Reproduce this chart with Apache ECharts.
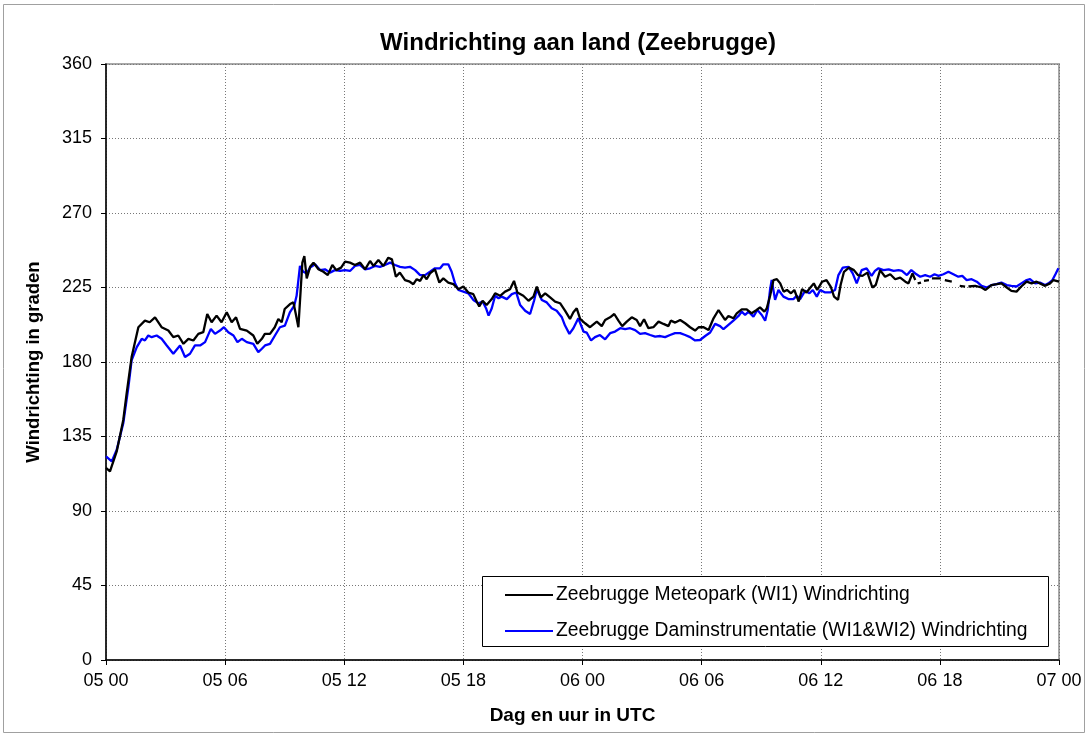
<!DOCTYPE html>
<html>
<head>
<meta charset="utf-8">
<script src="https://cdn.jsdelivr.net/npm/echarts@6/dist/echarts.min.js"></script>
<style>html,body{margin:0;padding:0;background:#fff}#c{width:1089px;height:737px}</style>
</head>
<body>
<div id="c"></div>
<script>
var xTickLabels = ['05 00','05 06','05 12','05 18','06 00','06 06','06 12','06 18','07 00'];
var yTicks = [0,45,90,135,180,225,270,315,360];
var seriesNames = ['Zeebrugge Meteopark (WI1) Windrichting','Zeebrugge Daminstrumentatie (WI1&WI2) Windrichting'];

// [hours since 05 00 UTC, degrees]; null = missing
var meteopark = [
[0,116],[0.2,114],[0.54,126],[0.87,145],[1.04,161],[1.29,183],[1.63,201],[1.96,205],[2.2,204],[2.47,207],[2.8,201],[3.14,199],[3.39,195],[3.64,196],[3.9,191],[4.15,194],[4.4,193],[4.65,197],[4.9,198],[5.1,209],[5.32,204],[5.57,208],[5.82,204],[6.08,210],[6.33,204],[6.55,207],[6.75,200],[7.09,199],[7.42,196],[7.62,191],
[7.85,194],[8.0,197],[8.26,197],[8.5,201],[8.68,206],[8.85,204],[9.0,212],[9.27,215],[9.44,216],[9.56,209],[9.69,201],[9.79,200],[9.89,240],[9.99,244],[10.11,230.5],[10.28,237.5],[10.45,240],[10.7,236],[10.95,234.5],[11.17,232.5],[11.4,238.6],[11.6,235.5],[11.84,237],[12.04,240.6],[12.29,240],[12.54,238.6],[12.8,240],[13.05,236],[13.3,241],[13.47,238],[13.72,241.6],[13.97,238],[14.22,243],[14.4,242],[14.6,231.5],[14.8,234],[15.06,229.5],
[15.3,228.5],[15.48,227],[15.65,230],[15.82,229],[15.99,232.5],[16.15,230],[16.32,233.5],[16.57,236],[16.79,228],[16.99,230.5],[17.24,228],[17.5,227],[17.75,224],[18.0,225.6],[18.25,222],[18.5,221],[18.67,216.5],[18.8,213.5],[18.97,217],[19.17,214.4],[19.43,218],[19.6,221.5],[19.85,220],[20.1,222.5],[20.35,224],[20.55,229],[20.72,222],[21.02,220],[21.28,217],[21.53,219.5],[21.7,225.5],[21.9,219],[22.12,221.5],[22.37,219],[22.62,216.5],[22.87,215.5],[23.12,211],[23.37,206],
[23.54,210],[23.71,212.4],[23.88,206],[24.13,203.4],[24.38,201],[24.72,204.4],[24.97,201.7],[25.14,205.4],[25.39,207],[25.6,209],[25.81,205],[26.0,201.7],[26.23,204.4],[26.48,207],[26.73,205.4],[26.9,201.7],[27.1,205.8],[27.32,200.4],[27.57,201],[27.83,204.4],[28.08,203],[28.33,201.7],[28.45,205],[28.67,203.8],[28.92,205.4],[29.17,203.4],[29.42,201],[29.67,199],[29.85,201],[30.1,201],[30.35,199.3],[30.6,206.4],[30.85,211.4],
[31.18,205.4],[31.35,207.8],[31.6,206.4],[31.77,209.4],[32.02,211.8],[32.27,211.8],[32.52,209.4],[32.77,211.4],[32.94,213],[33.16,210.4],[33.28,212.4],[33.45,220],[33.62,229.5],[33.79,230],[33.96,227.5],[34.13,222.5],[34.3,223.5],[34.5,221.5],[34.67,223.5],[34.89,216.5],[35.06,224],[35.28,222],[35.48,225],[35.65,227.5],[35.82,223.5],[36.07,228.5],[36.29,229.5],[36.5,225.6],[36.67,219.5],[36.87,217.5],[37.0,226.5],[37.17,234.5],[37.42,237],[37.67,235.5],[37.87,232.5],[38.1,232],[38.35,234],[38.6,225],[38.77,226.5],
[38.99,235.5],[39.24,231.5],[39.5,233],[39.75,230],[40.0,231],[40.26,228.5],[40.42,227.5],[40.62,233.5],[40.76,229.5],
[40.8,null],[40.88,227.5],[41.05,228],[41.12,null],[41.2,229],[41.45,229.5],[41.52,null],[41.6,230.5],[42.05,230.5],[42.15,null],[42.25,229.5],[42.6,228.5],[42.8,null],[43.0,226],[43.27,225.5],[43.35,null],
[43.44,225.6],[43.78,226],[44.1,225],[44.3,223.5],[44.6,226.5],[44.86,227],[45.1,227.5],[45.37,225],[45.6,223],[45.86,222.5],[46.1,225.6],[46.37,228.5],[46.62,227.5],[46.87,228.5],[47.04,227.5],[47.3,226],[47.55,227.5],[47.72,229.5],[48,228.5]
];

var daminstrumentatie = [
[0,123],[0.29,120],[0.54,127],[0.87,143],[1.13,165],[1.29,181],[1.55,189],[1.8,194],[1.96,193],[2.13,196],[2.3,195],[2.55,196],[2.8,194],[3.06,190],[3.39,185],[3.73,190],[3.98,183],[4.23,185],[4.48,190],[4.74,190],[4.99,192],[5.28,200],[5.49,197],[5.74,199],[5.94,201],[6.16,198],[6.42,196],[6.62,192],[6.84,194],[7.09,192],[7.42,191],[7.67,186],
[7.85,188],[8.01,190],[8.26,191],[8.51,196],[8.76,201],[9.01,202],[9.26,210],[9.48,214],[9.6,220],[9.69,229.5],[9.77,238],[9.94,234.5],[10.11,233.5],[10.28,237],[10.53,239],[10.78,235.5],[11.03,236],[11.28,234],[11.53,235.5],[11.79,235],[12.04,235.5],[12.29,235],[12.54,238],[12.79,238.6],[13.05,236],[13.3,236.6],[13.55,238],[13.8,237.5],[14.05,238.6],[14.31,240],[14.56,238.6],[14.81,237.5],[15.06,237],
[15.31,237.5],[15.57,235.5],[15.82,232.5],[16.07,232.5],[16.32,234.5],[16.57,236.6],[16.83,236.6],[16.99,239],[17.24,239],[17.41,234.5],[17.58,227.5],[17.75,223.5],[18.0,222.5],[18.25,221.5],[18.5,217.5],[18.76,215.5],[18.97,216.5],[19.14,212.5],[19.27,208],[19.43,212.5],[19.6,220],[19.77,218.5],[19.93,219.5],[20.19,218],[20.44,221],[20.66,222],[20.86,214.4],[21.11,211],[21.36,209],[21.56,217],[21.7,224],[21.95,217.5],[22.2,216],[22.45,212.5],[22.7,211],[22.96,207],[23.12,202],[23.34,197],
[23.54,200.4],[23.79,206.4],[24.05,198.4],[24.21,197.8],[24.43,193],[24.63,195],[24.88,196.3],[25.14,193.7],[25.39,197.4],[25.64,198.4],[25.9,200.4],[26.15,199.8],[26.4,200.4],[26.65,199.3],[26.9,197],[27.15,197.4],[27.41,196.3],[27.66,195.3],[27.91,195.7],[28.16,195],[28.41,196.3],[28.66,197.4],[28.92,197.4],[29.17,196.3],[29.42,195],[29.67,193],[29.92,193.3],[30.18,195.7],[30.43,197.8],[30.68,203],[30.93,201.7],
[31.1,199.8],[31.35,202.4],[31.6,205],[31.86,207.8],[32.02,210.4],[32.19,208.4],[32.36,210.4],[32.61,207.4],[32.81,211.4],[33.03,208.4],[33.2,205],[33.33,211.4],[33.45,224],[33.53,229.5],[33.7,217.5],[33.87,223.5],[34.12,219.5],[34.37,218],[34.62,218],[34.79,220],[34.96,218],[35.21,223],[35.43,221.5],[35.6,223.5],[35.8,219.5],[35.97,223.5],[36.22,222],[36.47,222],[36.72,223.5],[36.89,232.5],[37.11,237],[37.4,237.5],[37.61,233.5],[37.81,227.5],[38.06,235.5],[38.31,236.6],[38.56,232],[38.73,235],
[38.91,236.6],[39.16,235.5],[39.42,236],[39.67,235],[39.92,235.5],[40.09,235],[40.34,232.5],[40.56,235.5],[40.76,233.5],[41.01,231.5],[41.26,232.5],[41.51,231.5],[41.73,233],[41.93,232],[42.18,233],[42.43,234.5],[42.68,233],[42.93,231.5],[43.13,232],[43.35,229.5],[43.6,230],[43.86,228.5],[44.1,226],[44.37,225],[44.6,226.5],[44.86,227],[45.1,228],[45.37,226.5],[45.6,226],[45.86,225.6],[46.1,227.5],[46.37,229.5],[46.54,230],[46.8,227.5],[47.04,228],[47.3,226.5],[47.47,227.5],[47.67,229.5],[47.84,233.5],[47.97,236.6]
];

var FONT = "'Liberation Sans', Arial, sans-serif";
var chart = echarts.init(document.getElementById('c'), null, {renderer: 'canvas'});
chart.setOption({
  backgroundColor: '#ffffff',
  animation: false,
  textStyle: {fontFamily: FONT, color: '#000'},
  title: {
    text: 'Windrichting aan land (Zeebrugge)',
    left: 573, top: 26, textAlign: 'center',
    textStyle: {fontFamily: FONT, fontSize: 24, fontWeight: 'bold', color: '#000'}
  },
  graphic: [
    {type: 'rect', silent: true, z: -10, shape: {x: 3.5, y: 4.5, width: 1081, height: 728}, style: {fill: 'none', stroke: '#a0a0a0', lineWidth: 1}},
    {type: 'rect', silent: true, z: 5, shape: {x: 482.5, y: 576.5, width: 566, height: 70}, style: {fill: '#fff', stroke: '#000', lineWidth: 1}}
  ],
  legend: {
    orient: 'vertical', left: 500, top: 579, z: 10,
    itemWidth: 48, itemHeight: 2, itemGap: 14,
    textStyle: {fontFamily: FONT, fontSize: 19.3, color: '#000', padding: [0,0,0,-2], lineHeight: 22},
    data: [
      {name: seriesNames[0], icon: 'rect', itemStyle: {color: '#000000'}},
      {name: seriesNames[1], icon: 'rect', itemStyle: {color: '#0000ff'}}
    ]
  },
  grid: {left: 106, right: 30, top: 64, bottom: 77, show: true, borderColor: '#a8a8a8', borderWidth: 2, backgroundColor: '#fff'},
  xAxis: {
    type: 'value', min: 0, max: 48, interval: 6,
    name: 'Dag en uur in UTC', nameLocation: 'middle', nameGap: 46,
    nameTextStyle: {fontFamily: FONT, fontSize: 19, fontWeight: 'bold', color: '#000', padding: [0,0,0,-20]},
    axisLine: {show: true, onZero: false, lineStyle: {color: '#000', width: 1.5}},
    axisTick: {show: true, length: 5, lineStyle: {color: '#000'}},
    axisLabel: {fontFamily: FONT, fontSize: 18, color: '#000', margin: 12,
      formatter: function (v) { return xTickLabels[Math.round(v / 6)]; }},
    splitLine: {show: true, lineStyle: {color: '#777', type: [1, 2], width: 1}}
  },
  yAxis: {
    type: 'value', min: 0, max: 360, interval: 45,
    name: 'Windrichting in graden', nameLocation: 'middle', nameGap: 63, nameRotate: 90,
    nameTextStyle: {fontFamily: FONT, fontSize: 18.5, fontWeight: 'bold', color: '#000'},
    axisLine: {show: true, lineStyle: {color: '#000', width: 1.5}},
    axisTick: {show: true, length: 5, lineStyle: {color: '#000'}},
    axisLabel: {fontFamily: FONT, fontSize: 18, color: '#000', margin: 14,
      formatter: function (v) { return yTicks.indexOf(v) >= 0 ? String(v) : ''; }},
    splitLine: {show: true, lineStyle: {color: '#777', type: [1, 2], width: 1}}
  },
  series: [
    {name: seriesNames[0], type: 'line', data: meteopark, symbol: 'none', connectNulls: false,
     lineStyle: {color: '#000000', width: 2.3}, itemStyle: {color: '#000000'}, z: 3},
    {name: seriesNames[1], type: 'line', data: daminstrumentatie, symbol: 'none',
     lineStyle: {color: '#0000ff', width: 2.3}, itemStyle: {color: '#0000ff'}, z: 2}
  ]
});
</script>
</body>
</html>
